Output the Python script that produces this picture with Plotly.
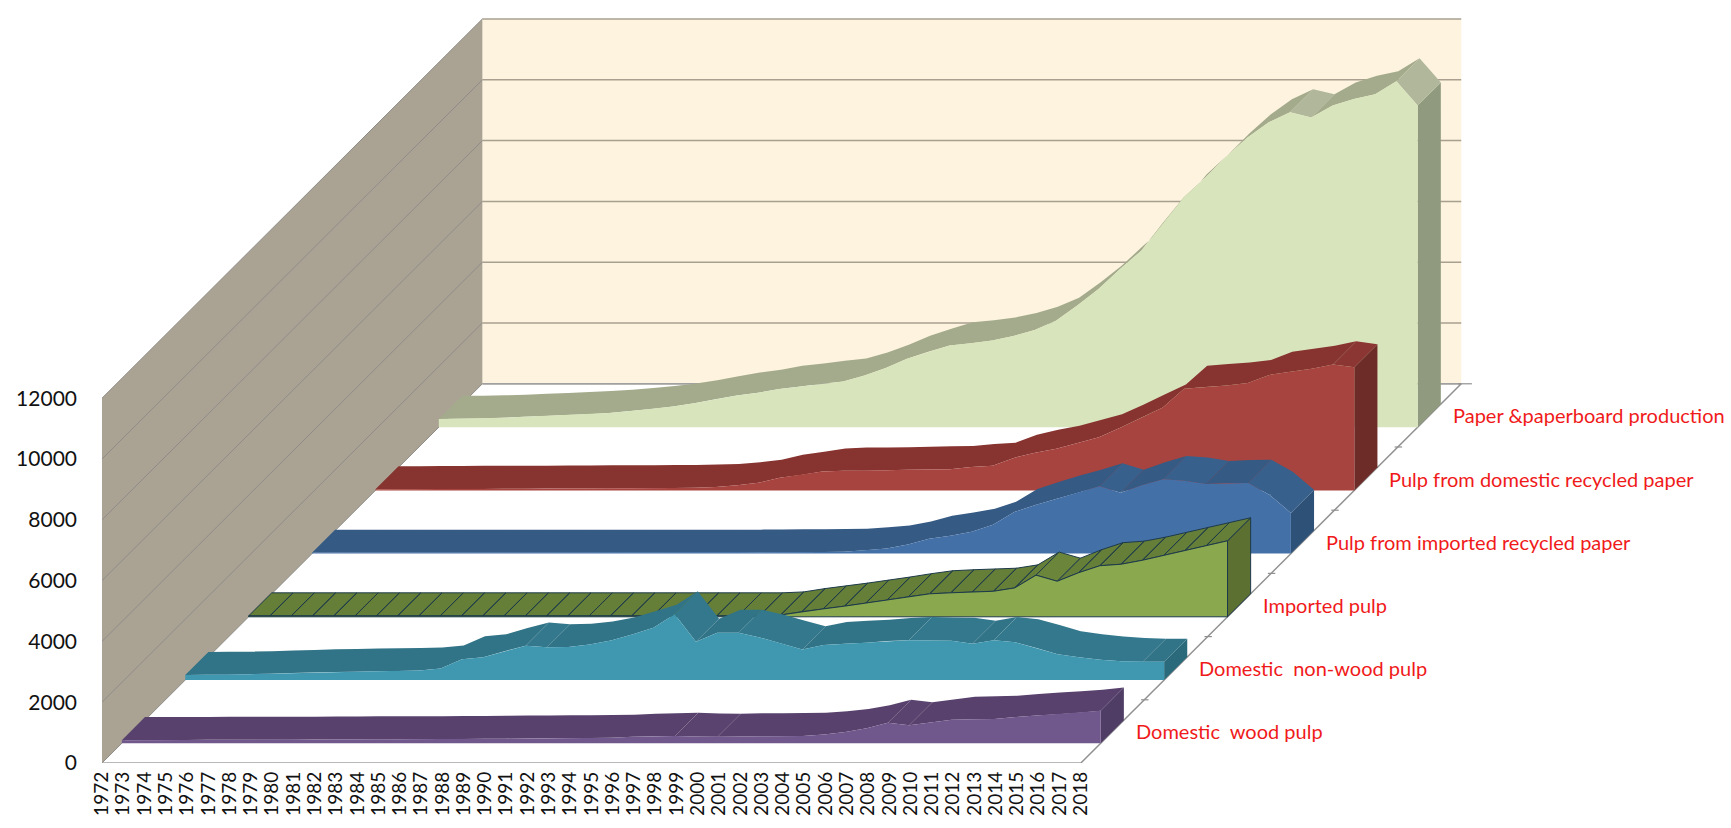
import itertools
import plotly.graph_objects as go

years = list(range(1972, 2019))
y_ticks = [0, 2000, 4000, 6000, 8000, 10000, 12000]

domestic_wood_pulp = [100, 100, 105, 105, 110, 110, 110, 115, 115, 120, 120, 125, 125, 130, 130, 135, 140, 145, 150,
                      155, 160, 165, 170, 180, 210, 230, 240, 220, 210, 225, 230, 235, 240, 290, 370, 490, 670, 590,
                      680, 770, 790, 800, 860, 910, 950, 1000, 1070]
domestic_non_wood_pulp = [165, 170, 175, 190, 210, 230, 250, 265, 275, 285, 295, 310, 380, 680, 745, 950, 1130, 1075,
                          1090, 1170, 1300, 1500, 1720, 2160, 1260, 1556, 1556, 1400, 1200, 1007, 1150, 1190, 1225,
                          1280, 1310, 1300, 1290, 1190, 1310, 1240, 1050, 845, 750, 670, 620, 600, 600]
imported_pulp = [30, 30, 30, 30, 30, 30, 30, 30, 30, 30, 30, 30, 30, 30, 30, 30, 30, 30, 30, 30, 30, 30, 30, 30, 30,
                 60, 170, 260, 350, 450, 550, 660, 756, 790, 815, 840, 950, 1370, 1170, 1450, 1680, 1730, 1860, 2020,
                 2180, 2340, 2500]
pulp_imported_recycled = [30, 30, 30, 30, 30, 30, 30, 30, 30, 30, 30, 30, 30, 30, 30, 30, 30, 30, 30, 30, 30, 35, 40,
                          45, 50, 60, 110, 170, 300, 490, 590, 720, 950, 1370, 1600, 1808, 2000, 2215, 2000, 2250,
                          2450, 2400, 2290, 2320, 2325, 1930, 1340]
pulp_domestic_recycled = [40, 40, 45, 45, 50, 50, 55, 55, 60, 60, 65, 65, 70, 75, 80, 90, 110, 170, 250, 415, 510, 620,
                          650, 650, 660, 680, 690, 700, 770, 810, 1070, 1240, 1370, 1560, 1745, 2060, 2400, 2727,
                          3345, 3400, 3450, 3530, 3800, 3900, 4000, 4145, 4050]
paper_production = [273, 280, 290, 310, 340, 370, 400, 430, 470, 530, 600, 680, 790, 920, 1040, 1130, 1260, 1340, 1430,
                    1500, 1700, 1950, 2250, 2480, 2690, 2760, 2850, 3000, 3200, 3500, 4000, 4550, 5200, 5800, 6700,
                    7560, 8200, 8900, 9530, 10030, 10360, 10190, 10580, 10800, 10950, 11380, 10580]

series_names = ["Domestic  wood pulp", "Domestic  non-wood pulp", "Imported pulp",
                "Pulp from imported recycled paper", "Pulp from domestic recycled paper",
                "Paper &paperboard production"]
series_values = [domestic_wood_pulp, domestic_non_wood_pulp, imported_pulp,
                 pulp_imported_recycled, pulp_domestic_recycled, paper_production]
front_colors = ["#70578c", "#3f98b0", "#8aa84e", "#4470a8", "#a8443f", "#d8e4bc"]
top_colors = ["#58416c", "#317387", "#667f38", "#355a84", "#873430", "#a4ab8c"]
fall_colors = ["#5a436e", "#33788c", "#6b853b", "#38608c", "#8b3632", "#b0b79a"]
end_colors = ["#4f3d66", "#2b6a7b", "#5c7031", "#2e5178", "#6e2c28", "#8f9a7e"]

# oblique projection of the depth axis, in axis units per series slot
SLOT_X = 2.979
SLOT_Y = 2079.0
FRONT, BACK = 0.313, 0.678
N = len(series_names)
PX_X, PX_Y = 21.28, 0.0304


def px(year, depth):
    return year + depth * SLOT_X


def py(value, depth):
    return value + depth * SLOT_Y


fig = go.Figure()


def poly(xs, ys, fill, line=None, width=0):
    fig.add_trace(go.Scatter(x=xs, y=ys, mode="lines", fill="toself", fillcolor=fill,
                             line=dict(color=line or fill, width=width), hoverinfo="skip", showlegend=False))


def lines(xs, ys, color, width=1):
    fig.add_trace(go.Scatter(x=xs, y=ys, mode="lines", line=dict(color=color, width=width),
                             hoverinfo="skip", showlegend=False))


y0, y1, top = years[0], years[-1], y_ticks[-1]

# back wall and left wall
poly([px(y0, N), px(y1, N), px(y1, N), px(y0, N), px(y0, N)],
     [py(0, N), py(0, N), py(top, N), py(top, N), py(0, N)], "#fdf3de")
poly([px(y0, 0), px(y0, N), px(y0, N), px(y0, 0), px(y0, 0)],
     [py(0, 0), py(0, N), py(top, N), py(top, 0), py(0, 0)], "#aaa394")
gx, gy, wx, wy = [], [], [], []
for t in y_ticks:
    gx += [px(y0, N), px(y1, N), None]
    gy += [py(t, N), py(t, N), None]
    wx += [px(y0, 0), px(y0, N), None]
    wy += [py(t, 0), py(t, N), None]
lines(gx, gy, "#a89f90", 1.5)
lines(wx, wy, "#8f8c88", 1)

# floor edges with tick marks
lines([y0, y1], [0, 0], "#a0a0a0", 1.5)
lines([px(y0, N), px(y1, N)], [py(0, N), py(0, N)], "#a0a0a0", 1.5)
lines([px(y1, 0), px(y1, N)], [py(0, 0), py(0, N)], "#909090", 1.5)
tx, ty = [], []
for d in range(1, N + 1):
    tx += [px(y1, d) - 0.15, px(y1, d) + (0.5 if d == N else 0.2), None]
    ty += [py(0, d), py(0, d), None]
lines(tx, ty, "#909090", 1.2)

# series, back to front
for i in range(N - 1, -1, -1):
    vals = series_values[i]
    df, db = i + FRONT, i + BACK
    outline = "#1d3a4a" if i == 2 else None
    w = 1 if i == 2 else 0
    # end cap
    poly([px(y1, df), px(y1, db), px(y1, db), px(y1, df), px(y1, df)],
         [py(0, df), py(0, db), py(vals[-1], db), py(vals[-1], df), py(0, df)], end_colors[i], outline, w)
    # top surface, left to right, grouped by slope direction
    steps = list(range(len(years) - 1))
    for falling, run in itertools.groupby(steps, key=lambda k: vals[k + 1] < vals[k]):
        xs, ys = [], []
        for k in run:
            a, b = years[k], years[k + 1]
            xs += [px(a, df), px(b, df), px(b, db), px(a, db), px(a, df), None]
            ys += [py(vals[k], df), py(vals[k + 1], df), py(vals[k + 1], db), py(vals[k], db), py(vals[k], df), None]
        poly(xs, ys, fall_colors[i] if falling else top_colors[i], outline, w)
    # front face
    poly([px(y, df) for y in years] + [px(y1, df), px(y0, df), px(y0, df)],
         [py(v, df) for v in vals] + [py(0, df), py(0, df), py(vals[0], df)], front_colors[i], outline, w)
    # series label
    fig.add_annotation(x=px(y1, i + 0.5) + 1.0, y=py(0, i + 0.5), text=series_names[i], showarrow=False,
                       xanchor="left", yanchor="middle", font=dict(family="Lato", size=20, color="#f01a1a"))

ML, BOTTOM = 102, 65
W, H = 1731, 828
fig.update_layout(
    width=W, height=H, showlegend=False, paper_bgcolor="white", plot_bgcolor="white",
    margin=dict(l=ML, r=0, t=0, b=BOTTOM),
    xaxis=dict(range=[y0, y0 + (W - ML) / PX_X], tickmode="array", tickvals=years, ticktext=[str(y) for y in years],
               tickangle=-90, ticks="", showgrid=False, zeroline=False, showline=False,
               tickfont=dict(family="Lato", size=19, color="#111111"), ticklabelstandoff=4),
    yaxis=dict(range=[0, (H - BOTTOM) / PX_Y], tickmode="array", tickvals=y_ticks, ticktext=[str(t) for t in y_ticks],
               ticks="", showgrid=False, zeroline=False, showline=False,
               tickfont=dict(family="Lato", size=21, color="#111111"), ticklabelstandoff=24),
)
fig.write_html("out.html", config={"displayModeBar": False}, post_script="document.body.style.margin='0';")
